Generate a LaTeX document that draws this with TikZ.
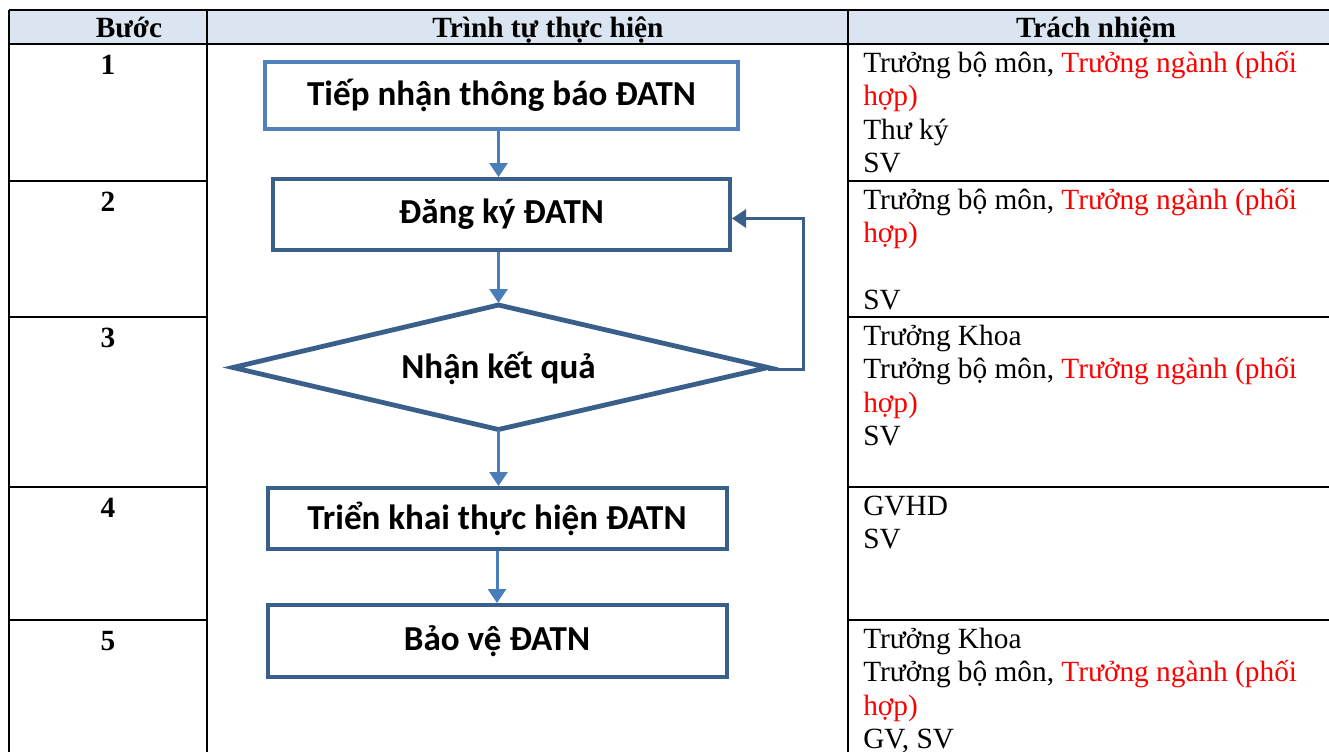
\documentclass[tikz,border=0pt]{standalone}
\usepackage{fontspec}
\setmainfont{Liberation Serif}
\newfontfamily\boxfont{Carlito}
\usetikzlibrary{arrows.meta,calc}
\definecolor{hdrfill}{HTML}{DBE5F1}
\definecolor{lblue}{HTML}{4F81BD}
\definecolor{dblue}{HTML}{3A5F8B}
\definecolor{ablue}{HTML}{4A7EBB}
\definecolor{redtxt}{HTML}{FF0000}
\begin{document}
\begin{tikzpicture}[x=0.75pt,y=-0.75pt,
  grid/.style={line width=1.5pt, draw=black},
  hdrtxt/.style={font=\fontsize{22}{25}\selectfont\bfseries, anchor=base, inner sep=0},
  numtxt/.style={font=\fontsize{22}{25}\selectfont\bfseries, anchor=base, inner sep=0},
  resp/.style={font=\fontsize{22}{25}\selectfont, anchor=base west, inner sep=0},
  flowfont/.style={font=\boxfont\fontsize{26.3}{30}\selectfont\bfseries},
  flowbox/.style={rectangle, draw=dblue, line width=3pt, fill=white, inner sep=0, flowfont},
  decision/.style={draw=dblue, line width=3.6pt, fill=white, line join=miter},
  arr/.style={draw=ablue, line width=2.25pt, -{Triangle[width=13.5pt,length=10.5pt]}},
  looparr/.style={draw=dblue, line width=2.25pt, -{Triangle[width=13.5pt,length=10.5pt]}}
]
\useasboundingbox (0,0) rectangle (1329,751);
\clip (0,0) rectangle (1329,751);
\fill[white] (0,0) rectangle (1329,751);
% header
\fill[hdrfill] (9,10) rectangle (1345,44);
\draw[grid] (9,10) -- (1345,10);
\draw[grid] (9,44) -- (1345,44);
\draw[grid] (9,10) -- (9,760);
\draw[grid] (207,10) -- (207,760);
\draw[grid] (848,10) -- (848,760);
\foreach \yy in {181,317,487,620}{
  \draw[grid] (9,\yy) -- (207,\yy);
  \draw[grid] (848,\yy) -- (1345,\yy);
}
\node[hdrtxt] (h1) at (129,37) {Bước};
\node[hdrtxt] (h2) at (548,37) {Trình tự thực hiện};
\node[hdrtxt] (h3) at (1096,37) {Trách nhiệm};
% step numbers
\node[numtxt] (n1) at (108,74) {1};
\node[numtxt] (n2) at (108,211) {2};
\node[numtxt] (n3) at (108,347) {3};
\node[numtxt] (n4) at (108,517) {4};
\node[numtxt] (n5) at (108,650) {5};
% responsibilities
\node[resp] (r1a) at (863,72) {Trưởng bộ môn, \textcolor{redtxt}{Trưởng ngành (phối}};
\node[resp, text=redtxt] (r1b) at (863,105.6) {hợp)};
\node[resp] (r1c) at (863,139.2) {Thư ký};
\node[resp] (r1d) at (863,172.8) {SV};
\node[resp] (r2a) at (863,209) {Trưởng bộ môn, \textcolor{redtxt}{Trưởng ngành (phối}};
\node[resp, text=redtxt] (r2b) at (863,242.6) {hợp)};
\node[resp] (r2d) at (863,309.8) {SV};
\node[resp] (r3a) at (863,345) {Trưởng Khoa};
\node[resp] (r3b) at (863,378.6) {Trưởng bộ môn, \textcolor{redtxt}{Trưởng ngành (phối}};
\node[resp, text=redtxt] (r3c) at (863,412.2) {hợp)};
\node[resp] (r3d) at (863,445.8) {SV};
\node[resp] (r4a) at (863,515) {GVHD};
\node[resp] (r4b) at (863,548.6) {SV};
\node[resp] (r5a) at (863,648) {Trưởng Khoa};
\node[resp] (r5b) at (863,681.6) {Trưởng bộ môn, \textcolor{redtxt}{Trưởng ngành (phối}};
\node[resp, text=redtxt] (r5c) at (863,715.2) {hợp)};
\node[resp] (r5d) at (863,748) {GV, SV};
% flowchart
\node[flowbox, draw=lblue, minimum width=354.75pt, minimum height=50.25pt] (b1) at (501.5,95.5) {Tiếp nhận thông báo ĐATN};
\node[flowbox, minimum width=342.75pt, minimum height=53.25pt] (b2) at (501.5,214.5) {Đăng ký ĐATN};
\coordinate (d3n) at (498.5,305);
\coordinate (d3s) at (498.5,429.5);
\coordinate (d3w) at (233,367.5);
\coordinate (d3e) at (768,367.5);
\draw[decision] (d3n) -- (d3e) -- (d3s) -- (d3w) -- cycle;
\node[flowfont, inner sep=0] (d3) at (498.5,368) {Nhận kết quả};
\node[flowbox, minimum width=344.25pt, minimum height=45.75pt] (b4) at (497,518.5) {Triển khai thực hiện ĐATN};
\node[flowbox, minimum width=344.25pt, minimum height=54pt] (b5) at (497,641) {Bảo vệ ĐATN};
\coordinate (lp) at (803,369);
\coordinate (lpe) at (768,369);
\coordinate (d3top) at (498.5,303);
\coordinate (b2in) at ($(b2.east)+(0,4)$);
\draw[arr] (b1.south -| d3n) -- (b2.north -| d3n);
\draw[arr] (b2.south -| d3n) -- (d3top);
\draw[arr] (d3s) -- (b4.north -| d3s);
\draw[arr] (b4.south) -- (b5.north);
\draw[looparr] (lpe) -- (lp) |- (b2in);
\end{tikzpicture}
\end{document}
